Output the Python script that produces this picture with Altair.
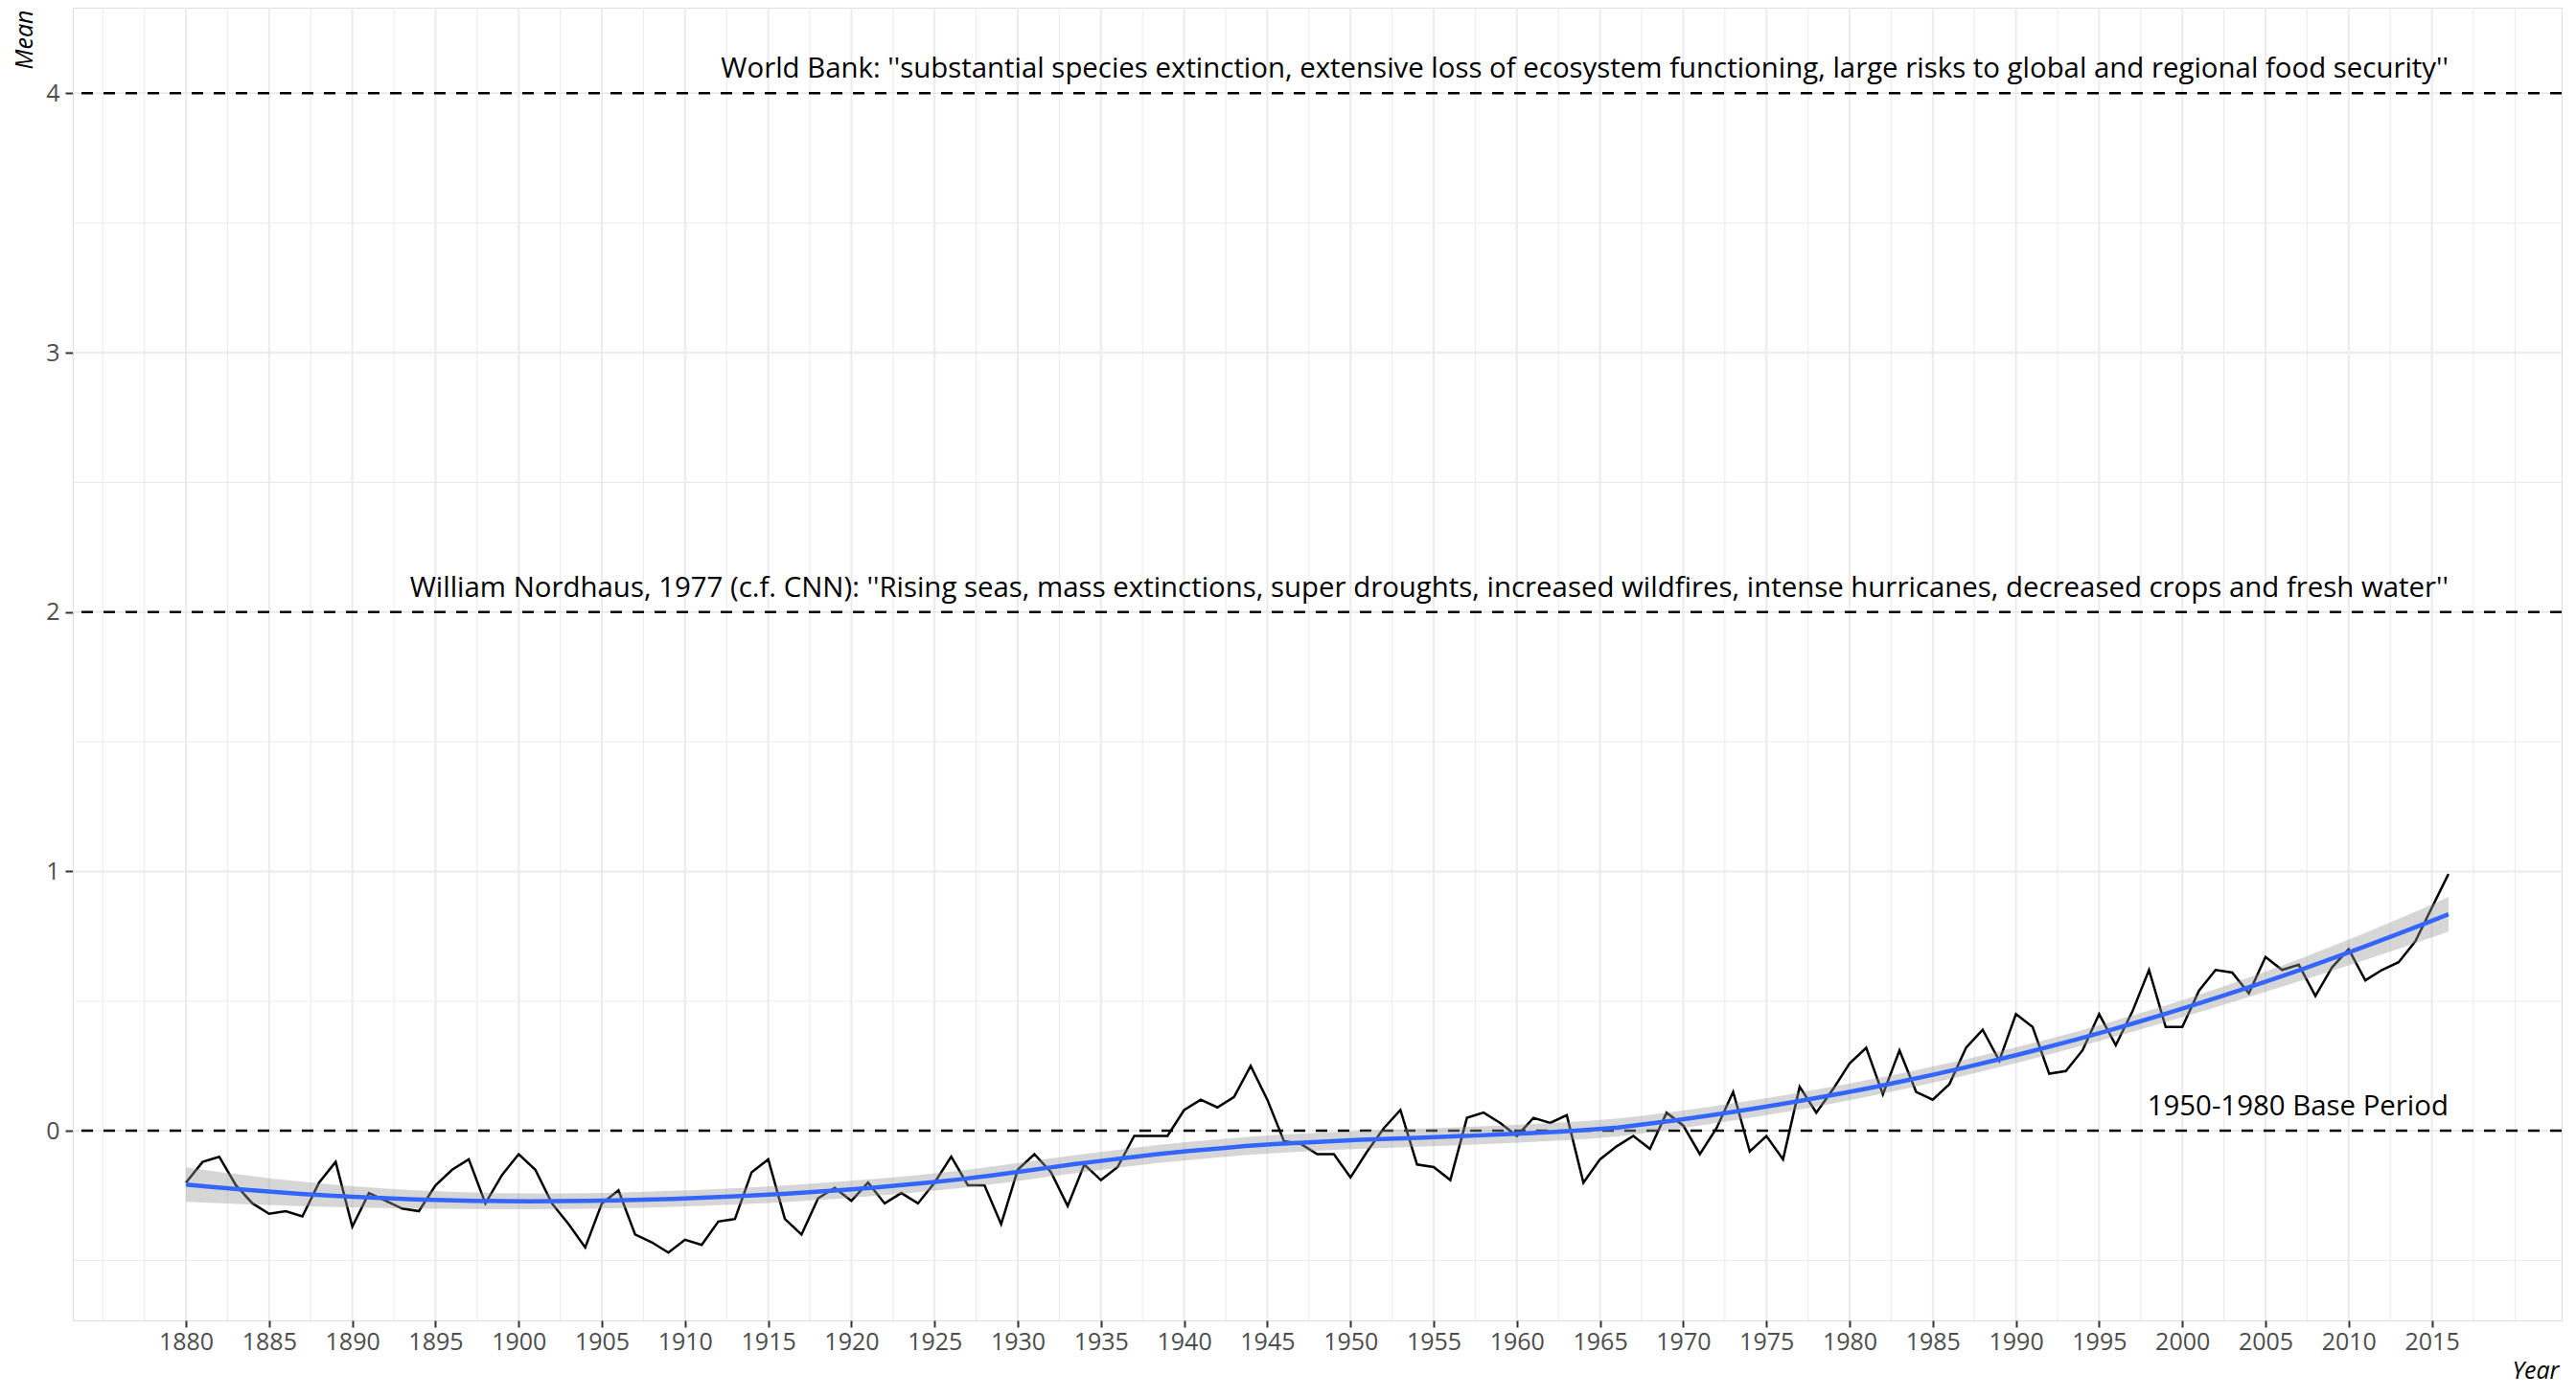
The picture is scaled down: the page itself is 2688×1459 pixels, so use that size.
import numpy as np
import pandas as pd
import altair as alt

# ---------------- data (GISS annual mean anomaly) ----------------
years = list(range(1880, 2017))
means = [
    -0.20, -0.12, -0.10, -0.21, -0.28, -0.32, -0.31, -0.33, -0.20, -0.12,   # 1880s
    -0.37, -0.24, -0.27, -0.30, -0.31, -0.21, -0.15, -0.11, -0.28, -0.17,   # 1890s
    -0.09, -0.15, -0.28, -0.36, -0.45, -0.28, -0.23, -0.40, -0.43, -0.47,   # 1900s
    -0.42, -0.44, -0.35, -0.34, -0.16, -0.11, -0.34, -0.40, -0.26, -0.22,   # 1910s
    -0.27, -0.20, -0.28, -0.24, -0.28, -0.20, -0.10, -0.21, -0.21, -0.36,   # 1920s
    -0.15, -0.09, -0.16, -0.29, -0.13, -0.19, -0.14, -0.02, -0.02, -0.02,   # 1930s
     0.08,  0.12,  0.09,  0.13,  0.25,  0.12, -0.04, -0.05, -0.09, -0.09,   # 1940s
    -0.18, -0.08,  0.01,  0.08, -0.13, -0.14, -0.19,  0.05,  0.07,  0.03,   # 1950s
    -0.02,  0.05,  0.03,  0.06, -0.20, -0.11, -0.06, -0.02, -0.07,  0.07,   # 1960s
     0.02, -0.09,  0.01,  0.15, -0.08, -0.02, -0.11,  0.17,  0.07,  0.16,   # 1970s
     0.26,  0.32,  0.14,  0.31,  0.15,  0.12,  0.18,  0.32,  0.39,  0.27,   # 1980s
     0.45,  0.40,  0.22,  0.23,  0.31,  0.45,  0.33,  0.46,  0.62,  0.40,   # 1990s
     0.40,  0.54,  0.62,  0.61,  0.53,  0.67,  0.62,  0.64,  0.52,  0.63,   # 2000s
     0.70,  0.58,  0.62,  0.65,  0.73,  0.86,  0.99,                         # 2010s
]

hline_values = [0, 2, 4]
hline_labels = [
    "1950-1980 Base Period",
    "William Nordhaus, 1977 (c.f. CNN): ''Rising seas, mass extinctions, super droughts, increased wildfires, intense hurricanes, decreased crops and fresh water''",
    "World Bank: ''substantial species extinction, extensive loss of ecosystem functioning, large risks to global and regional food security''",
]
label_year = 2016

x_major = list(range(1880, 2016, 5))
x_minor = [1875 + 2.5 * i for i in range(59) if (1875 + 2.5 * i) % 5 != 0 or (1875 + 2.5 * i) in (1875, 2020)]
y_major = [0, 1, 2, 3, 4]
y_minor = [-0.5, 0.5, 1.5, 2.5, 3.5]

# ---------------- loess smooth (degree 2, span 0.75) with 95% band, as geom_smooth ----------------
X = np.array(years, dtype=float)
Y = np.array(means, dtype=float)
n = len(X)
q = int(np.floor(n * 0.75))


def op_row(x0):
    d = np.abs(X - x0)
    h = np.sort(d)[q - 1]
    u = d / h
    w = np.where(u < 1, (1 - u ** 3) ** 3, 0.0)
    B = np.vstack([np.ones(n), X - x0, (X - x0) ** 2]).T
    BW = B * w[:, None]
    A = B.T @ BW
    return np.linalg.solve(A, BW.T)[0]


L = np.array([op_row(x) for x in X])
res = Y - L @ Y
IL = np.eye(n) - L
M = IL.T @ IL
d1 = np.trace(M)
d2 = np.trace(M @ M)
s = np.sqrt(np.sum(res ** 2) / d1)
dfree = d1 ** 2 / d2
z = 1.959964
tq = z + (z ** 3 + z) / (4 * dfree) + (5 * z ** 5 + 16 * z ** 3 + 3 * z) / (96 * dfree ** 2)

xs = np.linspace(X.min(), X.max(), 80)
Ls = np.array([op_row(x) for x in xs])
fit = Ls @ Y
se = s * np.sqrt(np.sum(Ls ** 2, axis=1))

df = pd.DataFrame({"Year": years, "Mean": means})
sm = pd.DataFrame({"Year": xs, "fit": fit, "lo": fit - tq * se, "hi": fit + tq * se})
hl = pd.DataFrame({"y": hline_values, "label": hline_labels, "Year": [label_year] * 3})
gxM = pd.DataFrame({"gx": x_major})
gxm = pd.DataFrame({"gx": x_minor})
gyM = pd.DataFrame({"gy": y_major})
gym = pd.DataFrame({"gy": y_minor})

# ---------------- scales / axes ----------------
FONT = "Open Sans"
xscale = alt.Scale(domain=[1873.2, 2022.8], nice=False, zero=False)
yscale = alt.Scale(domain=[-0.731, 4.33], nice=False, zero=False)

xaxis = alt.Axis(
    values=x_major, format="d", title="Year", grid=False, domain=False,
    tickSize=7, tickWidth=2, tickColor="#333333",
    labelFont=FONT, labelFontSize=25, labelColor="#4D4D4D", labelPadding=3,
    titleFont=FONT, titleFontSize=25, titleFontStyle="italic", titleFontWeight="normal",
    titleColor="#000000", titleAlign="right", titleAnchor="end", titleX=2594, titleY=60,
    titleBaseline="alphabetic",
)
yaxis = alt.Axis(
    values=y_major, format="d", title="Mean", grid=False, domain=False,
    tickSize=8, tickWidth=2, tickColor="#333333",
    labelFont=FONT, labelFontSize=25, labelColor="#4D4D4D", labelPadding=6,
    titleFont=FONT, titleFontSize=25, titleFontStyle="italic", titleFontWeight="normal",
    titleColor="#000000", titleAngle=270, titleAlign="right", titleBaseline="alphabetic",
    titleX=-43, titleY=2,
)


def X_(field):
    return alt.X(field, scale=xscale, axis=xaxis)


def Y_(field):
    return alt.Y(field, scale=yscale, axis=yaxis)


grid_xM = alt.Chart(gxM).mark_rule(color="#EBEBEB", strokeWidth=2).encode(x=X_("gx:Q"))
grid_xm = alt.Chart(gxm).mark_rule(color="#EBEBEB", strokeWidth=1.1).encode(x=X_("gx:Q"))
grid_yM = alt.Chart(gyM).mark_rule(color="#EBEBEB", strokeWidth=2).encode(y=Y_("gy:Q"))
grid_ym = alt.Chart(gym).mark_rule(color="#EBEBEB", strokeWidth=1.1).encode(y=Y_("gy:Q"))

hlines = alt.Chart(hl).mark_rule(color="#000000", strokeWidth=2.5, strokeDash=[12, 11]).encode(
    y=Y_("y:Q")
)

line = alt.Chart(df).mark_line(color="#000000", strokeWidth=2.5).encode(
    x=X_("Year:Q"), y=Y_("Mean:Q")
)

band = alt.Chart(sm).mark_area(color="#999999", opacity=0.4).encode(
    x=X_("Year:Q"), y=Y_("lo:Q"), y2="hi:Q"
)

smooth = alt.Chart(sm).mark_line(color="#3366FF", strokeWidth=4.5).encode(
    x=X_("Year:Q"), y=Y_("fit:Q")
)

labels = alt.Chart(hl).mark_text(
    align="right", baseline="alphabetic", dy=-16, font=FONT, fontSize=29.4, color="#000000"
).encode(x=X_("Year:Q"), y=Y_("y:Q"), text="label:N")

chart = alt.layer(
    grid_xm, grid_xM, grid_ym, grid_yM, hlines, line, band, smooth, labels
).properties(
    width=2597,
    height=1370,
    autosize=alt.AutoSizeParams(type="none"),
    padding={"left": 68, "top": 0, "right": 7, "bottom": 68},
).configure_view(stroke=None).configure(background="#FFFFFF")

chart.save("out.html", embed_options={"renderer": "svg", "actions": False})
